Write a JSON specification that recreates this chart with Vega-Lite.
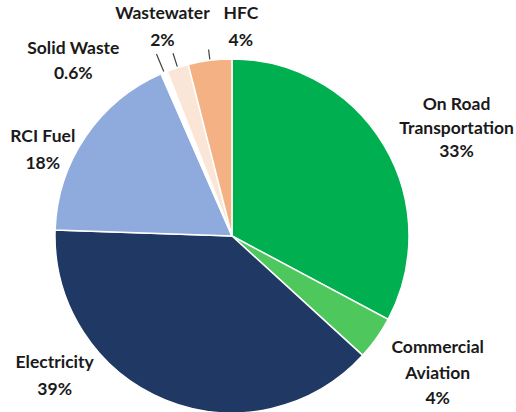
{
  "$schema": "https://vega.github.io/schema/vega-lite/v6.json",
  "width": 464,
  "height": 352,
  "autosize": "none",
  "padding": {"left": 0, "top": 60, "right": 52, "bottom": 0},
  "background": "white",
  "config": {"view": {"stroke": null}, "text": {"font": "Lato", "fontWeight": "bold", "fontSize": 17.5, "color": "#1a1a1a", "lineBreak": "\n"}},
  "data": {
    "values": [
      {"cat": "On Road Transportation", "value": 33, "rank": 1, "label": "On Road\nTransportation\n33%"},
      {"cat": "Commercial Aviation", "value": 4, "rank": 2, "label": "Commercial\nAviation\n4%"},
      {"cat": "Electricity", "value": 39, "rank": 3, "label": "Electricity\n39%"},
      {"cat": "RCI Fuel", "value": 18, "rank": 4, "label": "RCI Fuel\n18%"},
      {"cat": "Solid Waste", "value": 0.6, "rank": 5, "label": "Solid Waste\n0.6%"},
      {"cat": "Wastewater", "value": 2, "rank": 6, "label": "Wastewater\n2%"},
      {"cat": "HFC", "value": 4, "rank": 7, "label": "HFC\n4%"}
    ]
  },
  "encoding": {
    "theta": {"field": "value", "type": "quantitative", "stack": true},
    "order": {"field": "rank", "type": "quantitative"}
  },
  "layer": [
    {
      "mark": {"type": "arc", "outerRadius": 177, "stroke": "white", "strokeWidth": 1.5},
      "encoding": {
        "color": {
          "field": "cat", "type": "nominal", "legend": null,
          "scale": {
            "domain": ["On Road Transportation", "Commercial Aviation", "Electricity", "RCI Fuel", "Solid Waste", "Wastewater", "HFC"],
            "range": ["#00B050", "#4EC85C", "#1F3864", "#8FAADC", "#FFFFFF", "#FBE5D6", "#F4B183"]
          }
        }
      }
    },
    {
      "mark": {"type": "arc", "innerRadius": 178, "outerRadius": 197, "padAngle": 0.2, "fill": "transparent", "stroke": "#404040", "strokeWidth": 1.2},
      "encoding": {"strokeOpacity": {"condition": {"test": "datum.cat === 'Solid Waste'", "value": 1}, "value": 0}}
    },
    {
      "mark": {"type": "arc", "innerRadius": 178, "outerRadius": 192, "padAngle": 0.2, "fill": "transparent", "stroke": "#404040", "strokeWidth": 1.2},
      "encoding": {"strokeOpacity": {"condition": {"test": "datum.cat === 'Wastewater'", "value": 1}, "value": 0}}
    },
    {
      "mark": {"type": "arc", "innerRadius": 178, "outerRadius": 188, "padAngle": 0.2, "fill": "transparent", "stroke": "#404040", "strokeWidth": 1.2},
      "encoding": {"strokeOpacity": {"condition": {"test": "datum.cat === 'HFC'", "value": 1}, "value": 0}}
    },
    {
      "mark": {"type": "text", "radius": 249, "dx": 11, "dy": -2.5, "lineHeight": 23.5},
      "encoding": {"text": {"condition": {"test": "datum.cat === 'On Road Transportation'", "field": "label"}, "value": ""}}
    },
    {
      "mark": {"type": "text", "radius": 247, "dx": 4, "dy": -30.5, "lineHeight": 25.5},
      "encoding": {"text": {"condition": {"test": "datum.cat === 'Commercial Aviation'", "field": "label"}, "value": ""}}
    },
    {
      "mark": {"type": "text", "radius": 226, "dx": -92, "dy": -82.5, "lineHeight": 27},
      "encoding": {"text": {"condition": {"test": "datum.cat === 'Electricity'", "field": "label"}, "value": ""}}
    },
    {
      "mark": {"type": "text", "radius": 207, "dx": -18, "dy": 17.5, "lineHeight": 27},
      "encoding": {"text": {"condition": {"test": "datum.cat === 'RCI Fuel'", "field": "label"}, "value": ""}}
    },
    {
      "mark": {"type": "text", "radius": 200, "dx": -82, "dy": -2.5, "lineHeight": 25},
      "encoding": {"text": {"condition": {"test": "datum.cat === 'Solid Waste'", "field": "label"}, "value": ""}}
    },
    {
      "mark": {"type": "text", "radius": 220, "dx": -2, "dy": -12.5, "lineHeight": 27},
      "encoding": {"text": {"condition": {"test": "datum.cat === 'Wastewater'", "field": "label"}, "value": ""}}
    },
    {
      "mark": {"type": "text", "radius": 210, "dx": 35, "dy": -13.5, "lineHeight": 27},
      "encoding": {"text": {"condition": {"test": "datum.cat === 'HFC'", "field": "label"}, "value": ""}}
    }
  ]
}
